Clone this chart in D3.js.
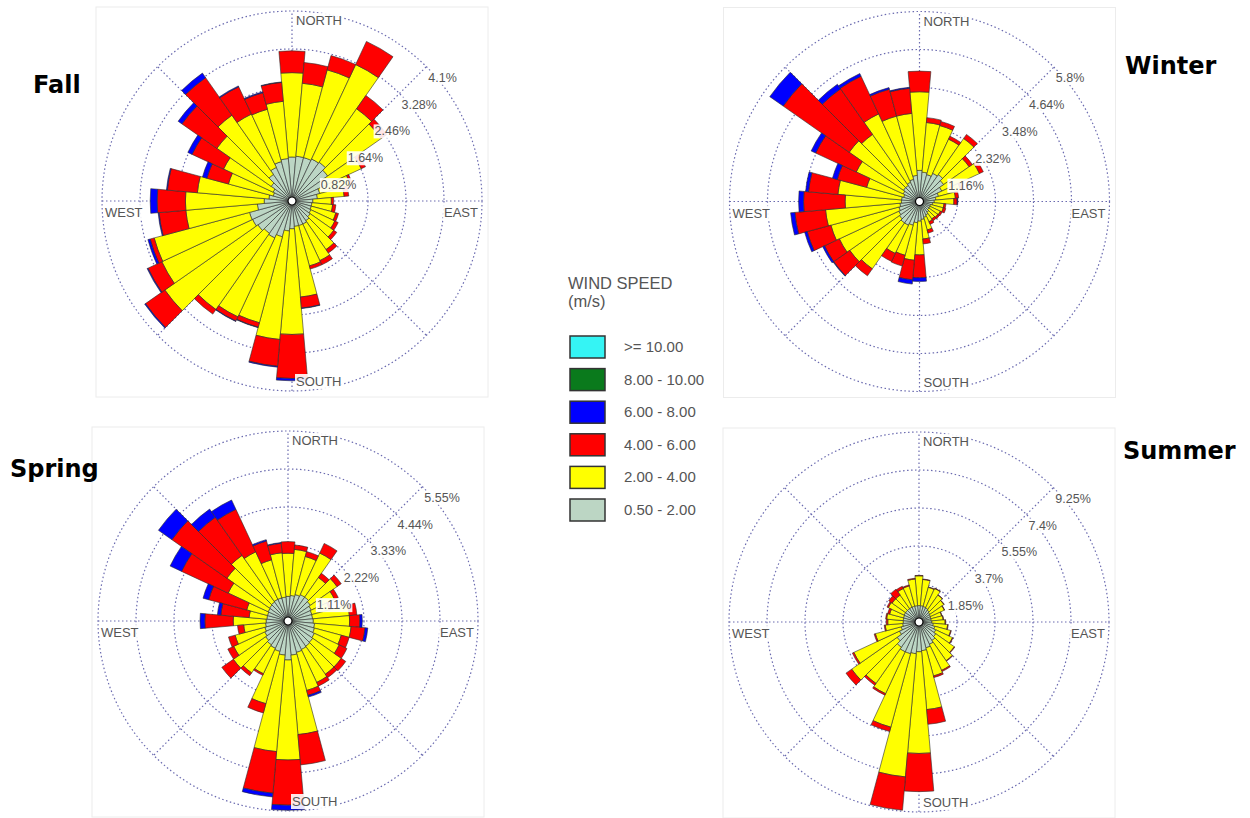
<!DOCTYPE html>
<html>
<head>
<meta charset="utf-8">
<title>Seasonal wind roses</title>
<script src="https://cdn.jsdelivr.net/npm/d3@7"></script>
<style>
  body { margin: 0; background: #fff; }
  text { font-family: "Liberation Sans", Arial, sans-serif; }
  .season { font-family: "DejaVu Sans", Verdana, sans-serif; font-weight: bold; font-size: 24px; fill: #000; }
</style>
</head>
<body>
<svg id="chart" width="1250" height="818"></svg>
<script>
// wind direction sectors (degrees from north, 10 degree bins)
var directions = [0, 10, 20, 30, 40, 50, 60, 70, 80, 90, 100, 110, 120, 130, 140, 150, 160, 170,
                  180, 190, 200, 210, 220, 230, 240, 250, 260, 270, 280, 290, 300, 310, 320, 330, 340, 350];
var compass = ["NORTH", "EAST", "SOUTH", "WEST"];

var speedLabels = [">= 10.00", "8.00 - 10.00", "6.00 - 8.00", "4.00 - 6.00", "2.00 - 4.00", "0.50 - 2.00"];
var speedColors = ["#35f4f4", "#0a7a1c", "#0000ff", "#ff0000", "#ffff00", "#bcd6c4"];

// frequency (%) per direction for each speed class
var fall05_2 = [0.95,0.97,0.97,1.0,1.02,0.94,0.75,0.62,0.55,0.45, 0.43,0.43,0.45,0.48,0.52,0.55,0.55,0.55,0.6,0.65, 0.8,0.88,0.85,0.9,0.94,0.95,0.75,0.6,0.5,0.42, 0.45,0.55,0.7,0.8,0.88,0.92];
var fall2_4  = [1.82,1.58,1.96,2.25,1.41,1.41,0.9,0.68,0.58,0.4, 0.45,0.55,0.57,0.62,0.76,0.87,0.9,1.53,2.28,2.35, 1.92,1.88,2.01,2.45,2.16,2.13,1.55,1.7,1.55,1.0, 1.18,1.43,1.56,1.27,1.17,1.24];
var fall4_6  = [0.47,0.45,0.32,0.55,0.35,0.15,0.1,0.05,0.1,0.05, 0.07,0.06,0.08,0.08,0.09,0.1,0.07,0.24,0.95,0.58, 0.1,0.1,0.12,0.51,0.33,0.09,0.58,0.61,0.65,0.48, 0.75,0.92,0.99,0.65,0.37,0.41];
var fall6_8  = [0,0,0,0,0,0,0,0,0,0, 0,0,0,0,0,0,0,0.01,0.05,0.02, 0.01,0.01,0,0.02,0.02,0.05,0.02,0.15,0.02,0.1, 0.1,0.1,0.12,0.02,0.02,0.01];
var fallTicks = [0.82, 1.64, 2.46, 3.28, 4.1];

var winter05_2 = [0.95,0.9,0.85,0.95,1.0,0.9,0.75,0.6,0.5,0.45, 0.4,0.35,0.35,0.35,0.4,0.45,0.5,0.55,0.6,0.65, 0.75,0.8,0.8,0.75,0.7,0.65,0.6,0.55,0.55,0.5, 0.55,0.6,0.6,0.65,0.7,0.8];
var winter2_4  = [2.4,1.52,1.55,1.15,1.35,0.95,1.27,0.7,0.6,0.6, 0.35,0.4,0.35,0.33,0.25,0.23,0.4,0.6,1.03,1.15, 0.95,0.95,1.71,1.85,2.0,2.15,2.28,1.72,1.95,1.17, 1.58,2.02,1.9,2.3,2.0,1.9];
var winter4_6  = [0.63,0.15,0.13,0.1,0.15,0.12,0.13,0.05,0.1,0.1, 0.06,0.08,0.06,0.06,0.07,0.09,0.1,0.15,0.7,0.6, 0.34,0.27,0.26,0.6,0.5,0.75,0.94,1.27,0.9,0.93, 1.37,2.46,1.7,1.27,0.85,0.77];
var winter6_8  = [0,0,0,0,0,0,0,0,0,0.02, 0,0,0,0,0,0,0,0,0.11,0.13, 0,0,0,0.02,0.06,0.08,0.13,0.15,0.09,0.15, 0.15,0.5,0.17,0.09,0.05,0.03];
var winterTicks = [1.16, 2.32, 3.48, 4.64, 5.8];

var spring05_2 = [0.72,0.75,0.8,0.85,0.85,0.8,0.75,0.72,0.72,0.74, 0.78,0.8,0.85,0.88,0.9,0.92,0.95,1.0,1.14,1.0, 0.92,0.88,0.85,0.8,0.75,0.7,0.66,0.64,0.62,0.62, 0.64,0.66,0.68,0.7,0.7,0.7];
var spring2_4  = [1.26,1.35,1.15,1.34,0.7,0.95,0.75,0.53,1.08,1.06, 1.07,0.81,0.8,1.02,1.0,1.06,1.15,2.33,2.92,2.83, 1.58,0.82,1.0,1.15,1.0,0.9,0.64,0.96,0.52,0.63, 1.29,1.52,1.66,1.53,1.15,1.3];
var spring4_6  = [0.34,0.13,0.15,0.31,0.15,0.15,0.12,0.05,0.22,0.3, 0.41,0.24,0.25,0.16,0.12,0.12,0.15,0.89,1.32,1.22, 0.28,0.05,0.1,0.41,0.19,0.2,0.18,0.83,0.83,1.15, 1.5,1.96,1.36,1.37,0.57,0.28];
var spring6_8  = [0,0,0,0,0,0,0,0,0,0.07, 0.08,0,0,0,0,0,0.05,0,0.15,0.11, 0,0,0,0,0,0,0,0.14,0.1,0.17, 0.37,0.48,0.29,0.3,0.04,0.02];
var springTicks = [1.11, 2.22, 3.33, 4.44, 5.55];

var summer05_2 = [0.8,0.8,0.78,0.75,0.7,0.65,0.62,0.6,0.6,0.63, 0.7,0.8,0.9,1.0,1.1,1.2,1.3,1.4,1.45,1.55, 1.6,1.6,1.5,1.3,1.05,0.9,0.8,0.77,0.77,0.78, 0.8,0.8,0.8,0.8,0.8,0.8];
var summer2_4  = [1.45,1.28,0.97,1.05,0.9,0.83,0.74,0.54,0.58,0.64, 0.7,0.8,0.9,1.1,1.2,1.4,1.42,2.88,4.95,6.02, 3.7,2.25,2.15,2.7,2.45,1.3,0.85,0.75,0.81,0.7, 0.85,0.8,0.8,1.0,1.02,1.3];
var summer4_6  = [0.02,0.02,0.02,0.02,0.02,0.02,0.02,0.02,0.02,0.03, 0.03,0.03,0.03,0.03,0.03,0.06,0.08,0.72,1.86,1.63, 0.22,0.08,0.11,0.34,0.08,0.06,0.05,0.08,0.05,0.1, 0.07,0.2,0.35,0.12,0.05,0.04];
var summer6_8  = [0,0,0,0,0,0,0,0,0,0, 0,0,0,0,0,0,0,0,0,0, 0,0,0,0,0,0,0,0,0,0, 0,0,0,0,0,0];
var summerTicks = [1.85, 3.7, 5.55, 7.4, 9.25];

var seasons = [
  {name: "Fall",   series: [fall05_2, fall2_4, fall4_6, fall6_8],         ticks: fallTicks,   cx: 292,   cy: 201,   tx: 33,   ty: 93},
  {name: "Winter", series: [winter05_2, winter2_4, winter4_6, winter6_8], ticks: winterTicks, cx: 919.5, cy: 201.5, tx: 1125, ty: 74},
  {name: "Spring", series: [spring05_2, spring2_4, spring4_6, spring6_8], ticks: springTicks, cx: 288,   cy: 621,   tx: 10,   ty: 477},
  {name: "Summer", series: [summer05_2, summer2_4, summer4_6, summer6_8], ticks: summerTicks, cx: 919,   cy: 622,   tx: 1123, ty: 459}
];

var svg = d3.select("#chart");
var R = 190;
var gridColor = "#6b6bb0";

var toRad = d3.scaleLinear().domain([0, 360]).range([0, 2 * Math.PI]);
// stack order is slow to fast, colours come from the legend (listed fast to slow)
var barColor = d3.scaleOrdinal().domain([0, 1, 2, 3]).range([speedColors[5], speedColors[4], speedColors[3], speedColors[2]]);
var arc = d3.arc();

function addBackedText(parent, x, y, str, anchor, size) {
  var t = parent.append("g");
  var txt = t.append("text")
      .attr("x", x).attr("y", y)
      .attr("text-anchor", anchor)
      .style("font-size", size + "px")
      .style("fill", "#555")
      .text(str);
  var bb = txt.node().getBBox();
  t.insert("rect", "text")
      .attr("x", bb.x - 1).attr("y", bb.y)
      .attr("width", bb.width + 2).attr("height", bb.height)
      .attr("fill", "#fff").attr("fill-opacity", 0.9);
}

seasons.forEach(function(s) {
  var r = d3.scaleLinear().domain([0, d3.max(s.ticks)]).range([0, R]);
  var g = svg.append("g").attr("transform", "translate(" + s.cx + "," + s.cy + ")");

  g.append("rect")
      .attr("x", -196).attr("y", -194)
      .attr("width", 392).attr("height", 390)
      .attr("fill", "none")
      .attr("stroke", "#ececec");

  // grid: rings, axes and diagonals
  g.selectAll(".ring")
    .data(s.ticks)
    .enter().append("circle")
      .attr("class", "ring")
      .attr("r", function(d) { return r(d); })
      .attr("fill", "none")
      .attr("stroke", gridColor)
      .attr("stroke-width", 1.2)
      .attr("stroke-dasharray", "1.5,2.5");

  g.selectAll(".axis")
    .data([0, 90])
    .enter().append("line")
      .attr("class", "axis")
      .attr("x1", function(d) { return -R * Math.sin(toRad(d)); })
      .attr("y1", function(d) { return R * Math.cos(toRad(d)); })
      .attr("x2", function(d) { return R * Math.sin(toRad(d)); })
      .attr("y2", function(d) { return -R * Math.cos(toRad(d)); })
      .attr("stroke", gridColor)
      .attr("stroke-width", 1.2)
      .attr("stroke-dasharray", "1.5,2.5");

  g.selectAll(".diag")
    .data([45, 135, 225, 315])
    .enter().append("line")
      .attr("class", "diag")
      .attr("x1", 0).attr("y1", 0)
      .attr("x2", function(d) { return R * Math.sin(toRad(d)); })
      .attr("y2", function(d) { return -R * Math.cos(toRad(d)); })
      .attr("stroke", gridColor)
      .attr("stroke-width", 1.2)
      .attr("stroke-dasharray", "1.5,2.5");

  // stacked bars
  var rows = directions.map(function(dir, i) {
    var o = {dir: dir};
    s.series.forEach(function(vals, k) { o[k] = vals[i]; });
    return o;
  });
  var stacked = d3.stack().keys(d3.range(s.series.length))(rows);

  g.selectAll(".layer")
    .data(stacked)
    .enter().append("g")
      .attr("class", "layer")
      .attr("fill", function(d) { return barColor(d.key); })
    .selectAll("path")
    .data(function(d) { return d.filter(function(p) { return p[1] > p[0]; }); })
    .enter().append("path")
      .attr("d", function(d) {
        return arc({
          innerRadius: r(d[0]),
          outerRadius: r(d[1]),
          startAngle: toRad(d.data.dir - 5),
          endAngle: toRad(d.data.dir + 5)
        });
      })
      .attr("stroke", "#2b2b2b")
      .attr("stroke-width", 0.6)
      .attr("stroke-linejoin", "round");

  g.append("circle")
      .attr("r", 4)
      .attr("fill", "#fff")
      .attr("stroke", "#000")
      .attr("stroke-width", 1.2);

  // ring labels along the NE diagonal
  s.ticks.forEach(function(v) {
    var p = r(v) * Math.SQRT1_2;
    addBackedText(g, p + 2, -p + 15, v + "%", "start", 12.5);
  });

  // compass labels
  addBackedText(g, 4, -R + 14, compass[0], "start", 13);
  addBackedText(g, R - 4, 16, compass[1], "end", 13);
  addBackedText(g, 4, R - 5, compass[2], "start", 13);
  addBackedText(g, -R + 3, 16, compass[3], "start", 13);

  svg.append("text")
      .attr("class", "season")
      .attr("x", s.tx).attr("y", s.ty)
      .text(s.name);
});

// legend
var legend = svg.append("g").attr("transform", "translate(568,0)");
legend.append("text").attr("x", 0).attr("y", 289).style("font-size", "16.5px").style("fill", "#555").text("WIND SPEED");
legend.append("text").attr("x", 0).attr("y", 307).style("font-size", "16.5px").style("fill", "#555").text("(m/s)");

var rowY = d3.scalePoint().domain(speedLabels).range([347, 510]);
var item = legend.selectAll(".item")
  .data(speedLabels)
  .enter().append("g")
    .attr("class", "item")
    .attr("transform", function(d) { return "translate(0," + rowY(d) + ")"; });

item.append("rect")
    .attr("x", 2).attr("y", -11)
    .attr("width", 35).attr("height", 22)
    .attr("fill", function(d, i) { return speedColors[i]; })
    .attr("stroke", "#333")
    .attr("stroke-width", 1.5);

item.append("text")
    .attr("x", 56).attr("y", 5)
    .style("font-size", "15px")
    .style("fill", "#555")
    .text(function(d) { return d; });
</script>
</body>
</html>
